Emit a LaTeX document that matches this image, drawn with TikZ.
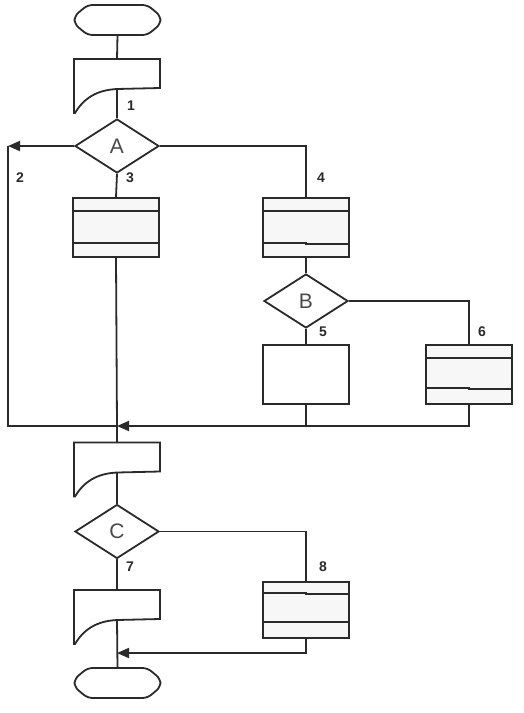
\documentclass[tikz,border=0pt]{standalone}
\usepackage{fontspec}
\setmainfont{Liberation Sans}
\usetikzlibrary{arrows.meta,shapes.geometric,calc}
\definecolor{ink}{HTML}{2A2A2A}
\definecolor{stip}{HTML}{F7F7F7}
\tikzset{
  line/.style={draw=ink,line width=1.8pt},
  arr/.style={line,-{Triangle[length=12pt,width=10pt]}},
  proc/.style={line,rectangle,minimum width=86pt,minimum height=59pt,inner sep=0pt,fill=stip},
  plain/.style={line,rectangle,minimum width=86pt,minimum height=59pt,inner sep=0pt,fill=white},
  dec/.style={line,diamond,minimum width=84pt,minimum height=54pt,inner sep=0pt,font=\fontsize{21}{21}\selectfont,text=ink!85},
  lbl/.style={font=\bfseries\fontsize{14}{14}\selectfont,text=ink,inner sep=0pt},
  docshape/.pic={
    \draw[line,fill=white] (-43,-27) -- (43,-27) -- (43,2) -- (0,3)
      .. controls (-20,4) and (-33,12) .. (-42,27) -- (-43,27) -- cycle;
    \coordinate (-n) at (0,-27);
    \coordinate (-b) at (0,3);
  },
  termshape/.pic={
    \draw[line,fill=white,rounded corners=5pt] (-30,-15) -- (30,-15) -- (43,-4) -- (43,4)
      -- (30,15) -- (-30,15) -- (-43,4) -- (-43,-4) -- cycle;
    \coordinate (-n) at (0,-15);
    \coordinate (-s) at (0,15);
  }
}
\begin{document}
\begin{tikzpicture}[x=1pt,y=-1pt]
\useasboundingbox[fill=white] (0,0) rectangle (523,713);

% shapes
\pic (t1) at (117.5,20) {termshape};
\pic (d1) at (117,86) {docshape};
\node[dec] (A) at (117,146) {A};
\node[proc] (b3) at (116,227.5) {};
\node[proc] (b4) at (306,227.5) {};
\node[dec] (B) at (306,301) {B};
\node[plain] (b5) at (306,374.5) {};
\node[proc] (b6) at (469,374.5) {};
\pic (d2) at (117,469.5) {docshape};
\node[dec] (C) at (117,531.5) {C};
\node[proc,minimum height=56pt] (b8) at (306,610) {};
\pic (d3) at (117,617) {docshape};
\pic (t2) at (117.5,683) {termshape};

% inner lines of process boxes
\draw[line] ($(b3.north west)+(0,14)$) -- ($(b3.north east)+(0,14)$);
\draw[line] ($(b3.south west)+(0,-15)$) -- ($(b3.south east)+(0,-15)$);
\draw[line] ($(b4.north west)+(0,14)$) -- ($(b4.north east)+(0,14)$);
\draw[line] ($(b4.south west)+(0,-15)$) -- ($(b4.south)+(0,-15)$) -- ($(b4.south)+(0,-14)$) -- ($(b4.south east)+(0,-14)$);
\draw[line] ($(b6.north west)+(0,14)$) -- ($(b6.north east)+(0,14)$);
\draw[line] ($(b6.south west)+(0,-17)$) -- ($(b6.south)+(0,-17)$) -- ($(b6.south)+(0,-16)$) -- ($(b6.south east)+(0,-16)$);
\draw[line] ($(b8.north west)+(0,12)$) -- ($(b8.north)+(0,12)$) -- ($(b8.north)+(0,13)$) -- ($(b8.north east)+(0,13)$);
\draw[line] ($(b8.south west)+(0,-17)$) -- ($(b8.south east)+(0,-17)$);

% junction coordinates
\coordinate (l2) at (8,146);
\coordinate (m2) at (8,426);
\coordinate (mj) at (117,426);
\coordinate (m5) at (306,426);
\coordinate (m6) at (469,426);
\coordinate (mk) at (117,653);
\coordinate (m8) at (306,653);

% connectors
\draw[line] (t1-s) -- (d1-n);
\draw[line] (d1-b) -- (A.north);
\draw[arr] (A.west) -- (l2);
\draw[line] (l2) -- (m2) -- (mj);
\draw[line] (A.south) -- (b3.north);
\draw[line] (A.east) -| (b4.north);
\draw[line] (b3.south) -- (mj) -- (d2-n);
\draw[line] (b4.south) -- (B.north);
\draw[line] (B.south) -- (b5.north);
\draw[line] (B.east) -| (b6.north);
\draw[line] (b5.south) -- (m5);
\draw[arr] (b6.south) -- (m6) -- (mj);
\draw[line] (d2-b) -- (C.north);
\draw[line] (C.south) -- (d3-n);
\draw[line] (C.east) -| (b8.north);
\draw[line] (d3-b) -- (t2-n);
\draw[arr] (b8.south) -- (m8) -- (mk);

% labels
\node[lbl] (n1) at (131,106) {1};
\node[lbl] (n2) at (20,178) {2};
\node[lbl] (n3) at (130,178) {3};
\node[lbl] (n4) at (321,178) {4};
\node[lbl] (n5) at (323,332) {5};
\node[lbl] (n6) at (482,332) {6};
\node[lbl] (n7) at (130,567) {7};
\node[lbl] (n8) at (323,567) {8};
\end{tikzpicture}
\end{document}
